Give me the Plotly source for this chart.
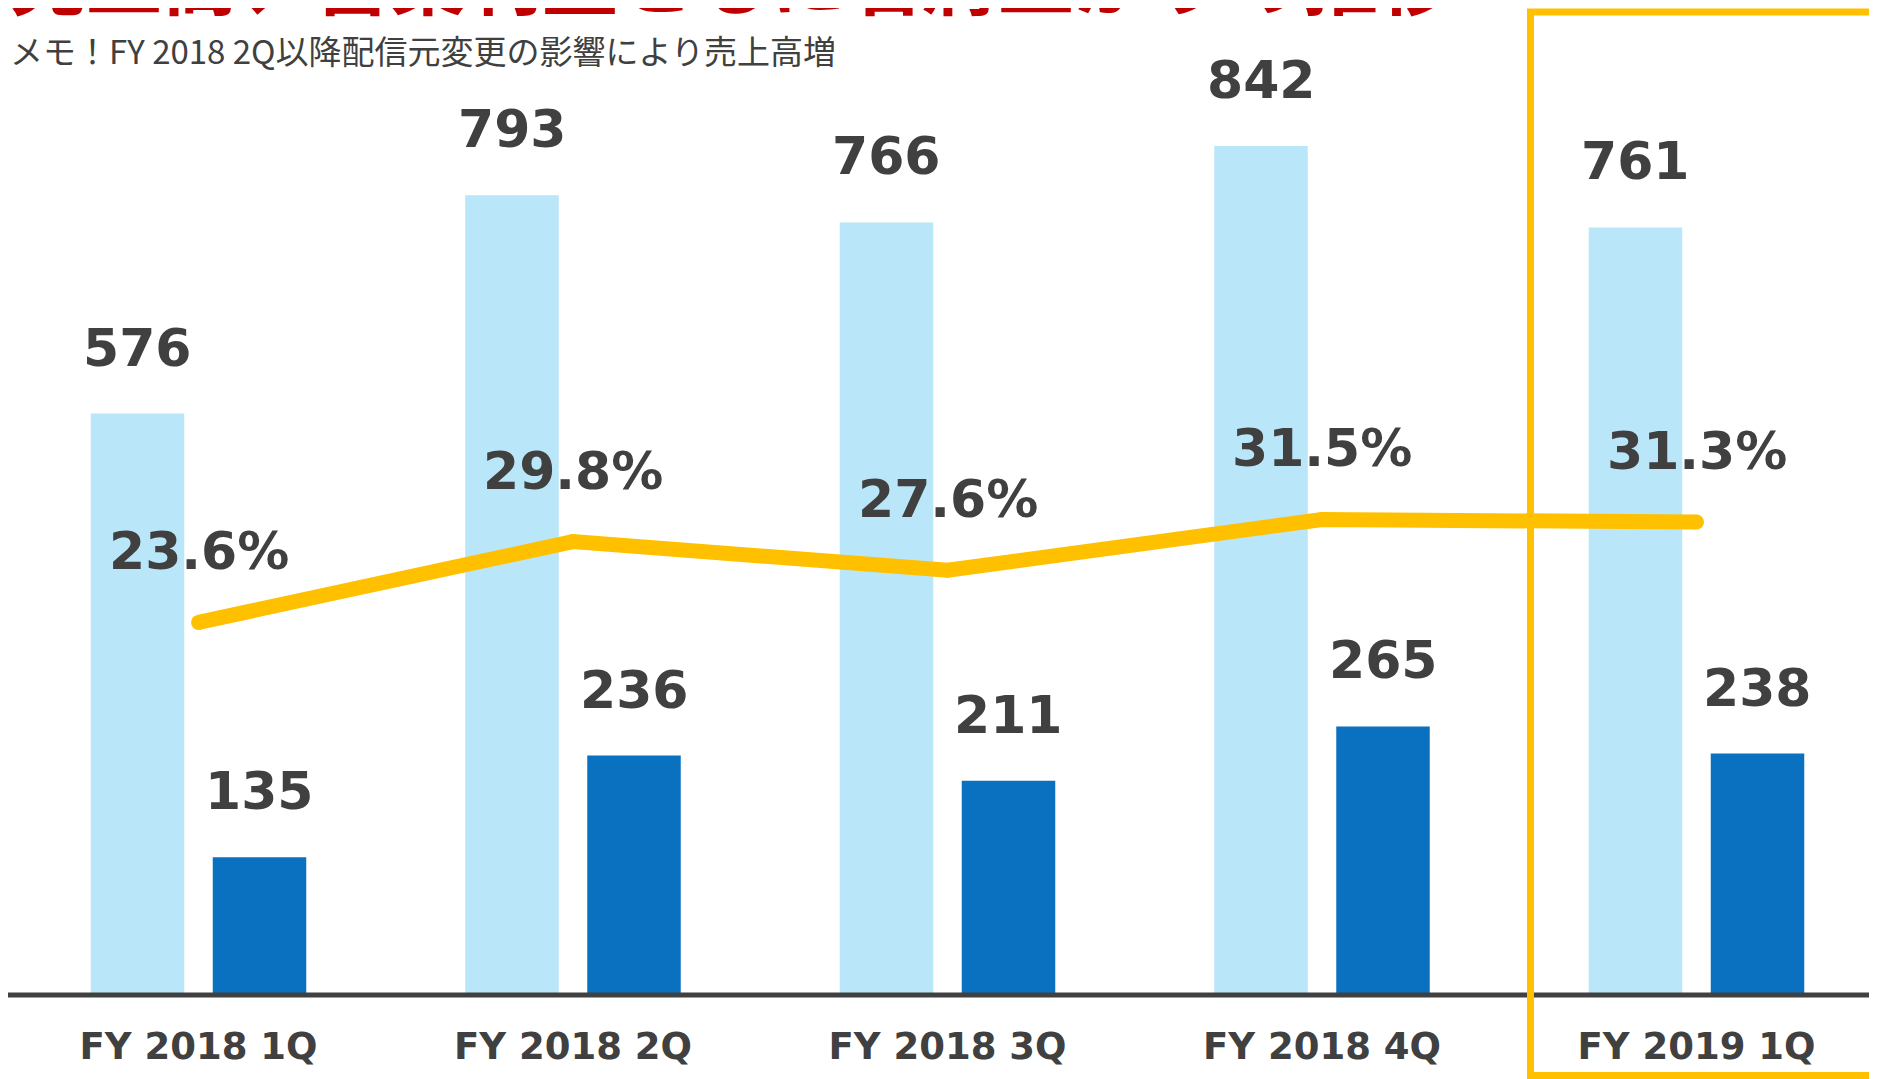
import plotly.graph_objects as go

categories = ["FY 2018 1Q", "FY 2018 2Q", "FY 2018 3Q", "FY 2018 4Q", "FY 2019 1Q"]
sales = [576, 793, 766, 842, 761]
profit = [135, 236, 211, 265, 238]
margin_pct = [23.6, 29.8, 27.6, 31.5, 31.3]

title_text = "売上高、営業利益ともに右肩上がりの推移"
subtitle_text = "メモ！FY 2018 2Q以降配信元変更の影響により売上高増"

# page size and the browser's default body margin
PW, PHT = 1877, 1079
OFF = 8
W, H = PW - OFF, PHT - OFF
PH = 993 - OFF            # plot-area height (bottom at page y=993)
MB = H - PH

LIGHT = "#B9E6F8"
DARK = "#0A70C0"
GOLD = "#FFC000"
TXT = "#404040"
NUM_FONT = "DejaVu Sans"

xs = list(range(len(categories)))
spacing = 374.5
x0 = -(198.5 - OFF) / spacing
x1 = x0 + W / spacing
bw = 93.5 / spacing
off = 61 / spacing

k2 = 13.03
p_ref, y_ref = 23.6, 622.4 - OFF
y2_lo = p_ref - (PH - y_ref) / k2
y2_hi = p_ref + y_ref / k2

fig = go.Figure()
fig.add_trace(go.Bar(x=xs, y=sales, width=bw, offset=-off - bw / 2,
                     marker=dict(color=LIGHT, line=dict(width=0)), name="売上高"))
fig.add_trace(go.Bar(x=xs, y=profit, width=bw, offset=off - bw / 2,
                     marker=dict(color=DARK, line=dict(width=0)), name="営業利益"))
fig.add_trace(go.Scatter(x=xs, y=margin_pct, yaxis="y2", mode="lines+markers",
                         line=dict(color=GOLD, width=15),
                         marker=dict(color=GOLD, size=15, line=dict(width=0)),
                         name="営業利益率"))

ann = []
for i, v in enumerate(sales):
    ann.append(dict(x=i, y=v, xref="x", yref="y", xshift=-61, yshift=66,
                    text=str(v), showarrow=False, yanchor="middle", xanchor="center",
                    font=dict(family=NUM_FONT, size=52, color=TXT, weight="bold")))
for i, v in enumerate(profit):
    ann.append(dict(x=i, y=v, xref="x", yref="y", xshift=61, yshift=66,
                    text=str(v), showarrow=False, yanchor="middle", xanchor="center",
                    font=dict(family=NUM_FONT, size=52, color=TXT, weight="bold")))
for i, v in enumerate(margin_pct):
    ann.append(dict(x=i, y=v, xref="x", yref="y2", yshift=71,
                    text=f"{v:.1f}%", showarrow=False, yanchor="middle", xanchor="center",
                    font=dict(family=NUM_FONT, size=52, color=TXT, weight="bold")))

ann.append(dict(x=0, y=(PH - (50 - OFF)) / PH, xref="paper", yref="paper", text=subtitle_text,
                showarrow=False, xanchor="left", yanchor="middle",
                font=dict(family="Noto Sans CJK JP", size=33, color=TXT)))
ann.append(dict(x=0, y=1, xref="paper", yref="paper", text=title_text,
                showarrow=False, xanchor="left", yanchor="bottom", yshift=-25,
                font=dict(family="Noto Sans CJK JP", size=76, color="#C00000", weight="bold")))


def px_x(p):
    return (p - OFF) / W


def px_y(p):
    return (PH - (p - OFF)) / PH


shapes = [
    dict(type="line", xref="paper", yref="paper", x0=px_x(OFF), x1=px_x(PW + 10),
         y0=px_y(995), y1=px_y(995), line=dict(color=TXT, width=5), layer="above"),
    dict(type="rect", xref="paper", yref="paper", x0=px_x(1530.5), x1=px_x(PW + 40),
         y0=px_y(1075.5), y1=px_y(12), line=dict(color=GOLD, width=7), layer="above"),
]

fig.update_layout(
    width=W, height=H,
    margin=dict(l=0, r=0, t=0, b=MB, pad=0),
    paper_bgcolor="white", plot_bgcolor="white",
    showlegend=False,
    barmode="overlay",
    xaxis=dict(range=[x0, x1], tickvals=xs, ticktext=categories, showgrid=False,
               zeroline=False, showline=False, ticks="", ticklabelstandoff=28,
               tickfont=dict(family=NUM_FONT, size=37, color=TXT, weight="bold")),
    yaxis=dict(range=[0, PH / 1.006], visible=False, showgrid=False, zeroline=False),
    yaxis2=dict(range=[y2_lo, y2_hi], overlaying="y", visible=False, showgrid=False,
                zeroline=False),
    annotations=ann,
    shapes=shapes,
)

fig.write_html("out.html")
